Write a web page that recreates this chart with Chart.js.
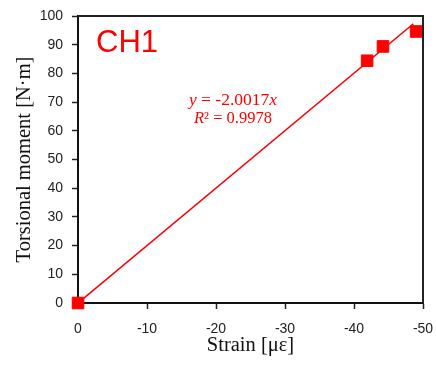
<!DOCTYPE html>
<html>
<head>
<meta charset="utf-8">
<script src="https://cdn.jsdelivr.net/npm/chart.js@4.4.1/dist/chart.umd.min.js"></script>
<style>
  html, body { margin: 0; padding: 0; background: #fff; }
  #wrap { width: 436px; height: 365px; position: relative; }
</style>
</head>
<body>
<div id="wrap"><canvas id="c" width="436" height="365"></canvas></div>
<script>
// ---- data ----
const strainValues = [0, -41.9, -44.2, -49.0];
const momentValues = [0, 84.4, 89.4, 94.6];
const trendStrain = [0, -48.6];
const trendMoment = [0, 97.3];
const xTickValues = [0, -10, -20, -30, -40, -50];
const xTickLabels = ['0', '-10', '-20', '-30', '-40', '-50'];
const yTickValues = [0, 10, 20, 30, 40, 50, 60, 70, 80, 90, 100];
const yTickLabels = ['0', '10', '20', '30', '40', '50', '60', '70', '80', '90', '100'];
const channelLabel = 'CH1';
const equationParts = [['y', true], [' = -2.0017', false], ['x', true]];
const r2Parts = [['R', true], ['\u00B2 = 0.9978', false]];
const xTitle = 'Strain [\u03BC\u03B5]';
const yTitle = 'Torsional moment [N\u00B7m]';

const RED = '#ff0000';

const framePlugin = {
  id: 'frame',
  afterDatasetsDraw(chart) {
    const {ctx, chartArea: a} = chart;
    ctx.save();
    ctx.strokeStyle = '#222';
    ctx.lineWidth = 2;
    ctx.beginPath();
    ctx.moveTo(a.left, a.top);
    ctx.lineTo(a.right, a.top);
    ctx.lineTo(a.right, a.bottom);
    ctx.stroke();
    // annotations
    ctx.fillStyle = RED;
    ctx.textBaseline = 'alphabetic';
    ctx.textAlign = 'left';
    ctx.font = '31px "Liberation Sans", Arial, sans-serif';
    ctx.fillText(channelLabel, 96, 52);
    const drawParts = (parts, cx, cy, size) => {
      const fam = '"Liberation Serif", "Times New Roman", serif';
      let w = 0;
      parts.forEach(([t, it]) => { ctx.font = (it ? 'italic ' : '') + size + 'px ' + fam; w += ctx.measureText(t).width; });
      let x = cx - w / 2;
      ctx.textBaseline = 'middle';
      parts.forEach(([t, it]) => { ctx.font = (it ? 'italic ' : '') + size + 'px ' + fam; ctx.fillText(t, x, cy); x += ctx.measureText(t).width; });
    };
    drawParts(equationParts, 233, 100, 17.5);
    drawParts(r2Parts, 233, 119, 16.5);
    ctx.restore();
  }
};

new Chart(document.getElementById('c'), {
  type: 'scatter',
  data: {
    datasets: [
      {
        type: 'line',
        label: 'trend',
        data: trendStrain.map((x, i) => ({x, y: trendMoment[i]})),
        borderColor: RED,
        borderWidth: 1.6,
        pointRadius: 0,
        fill: false,
        order: 2
      },
      {
        label: channelLabel,
        data: strainValues.map((x, i) => ({x, y: momentValues[i]})),
        backgroundColor: RED,
        borderColor: RED,
        pointStyle: 'rect',
        pointRadius: 8.2,
        pointHoverRadius: 8.2,
        clip: false,
        order: 1
      }
    ]
  },
  options: {
    responsive: false,
    animation: false,
    devicePixelRatio: 1,
    layout: { padding: { top: 16, right: 13, left: 0, bottom: 0 } },
    plugins: { legend: { display: false }, tooltip: { enabled: false } },
    scales: {
      x: {
        type: 'linear',
        min: -50, max: 0, reverse: true,
        afterFit(s) { s.height = 62; s.paddingLeft = 0; s.paddingRight = 0; },
        afterBuildTicks(s) { s.ticks = xTickValues.map(v => ({value: v})); },
        grid: { display: true, drawOnChartArea: false, drawTicks: true, tickLength: 6, color: '#222', tickWidth: 1.5 },
        border: { display: true, color: '#111', width: 2 },
        ticks: {
          padding: 12,
          color: '#222',
          font: { family: '"Liberation Sans", Arial, sans-serif', size: 14 },
          maxRotation: 0,
          callback: (v) => { const i = xTickValues.indexOf(v); return i >= 0 ? xTickLabels[i] : ''; }
        },
        title: {
          display: true, text: xTitle, color: '#111',
          font: { family: '"Liberation Serif", "Times New Roman", serif', size: 20.5, lineHeight: 1.2 },
          padding: { top: 0, bottom: 7 }
        }
      },
      y: {
        type: 'linear',
        min: 0, max: 100,
        afterFit(s) { s.width = 78; s.paddingTop = 0; s.paddingBottom = 0; },
        afterBuildTicks(s) { s.ticks = yTickValues.map(v => ({value: v})); },
        grid: { display: true, drawOnChartArea: false, drawTicks: true, tickLength: 6, color: '#222', tickWidth: 1.5 },
        border: { display: true, color: '#111', width: 2 },
        ticks: {
          padding: 9,
          color: '#222',
          font: { family: '"Liberation Sans", Arial, sans-serif', size: 14 },
          callback: (v) => { const i = yTickValues.indexOf(v); return i >= 0 ? yTickLabels[i] : ''; }
        },
        title: {
          display: true, text: yTitle, color: '#111',
          font: { family: '"Liberation Serif", "Times New Roman", serif', size: 20.5, lineHeight: 1.2 },
          padding: { top: 12, bottom: 0 }
        }
      }
    }
  },
  plugins: [framePlugin]
});
</script>
</body>
</html>
